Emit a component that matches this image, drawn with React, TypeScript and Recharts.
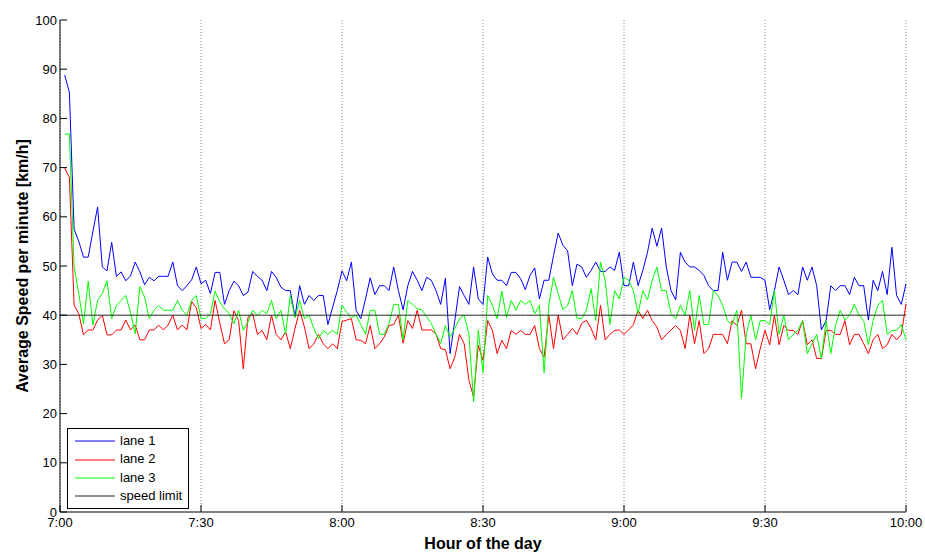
import React from 'react';
import { LineChart, Line, XAxis, YAxis, CartesianGrid, Legend } from 'recharts';

const X_TICKS = [0, 30, 60, 90, 120, 150, 180];
const X_TICK_LABELS = ['7:00', '7:30', '8:00', '8:30', '9:00', '9:30', '10:00'];
const Y_TICKS = [0, 10, 20, 30, 40, 50, 60, 70, 80, 90, 100];
const SPEED_LIMIT = 40;

// minute 1 .. 180 after 7:00
const LANE1 = [
  88.8, 85.3, 57.5, 55, 51.8, 51.8, 57, 62, 49.8, 49, 54.8, 47.9, 48.8, 47, 48, 50.8, 48.8, 46.2, 47.7, 47, 47.9, 47.9, 47.9, 50.8, 46, 45, 46, 47.2, 49.8, 46.4,
  47.1, 44.4, 48.7, 48.7, 42.2, 45, 46.9, 46, 44, 44.7, 48.9, 47.9, 47.1, 45, 48.9, 47.7, 45.7, 45, 45, 39.7, 46, 42.2, 44, 43, 44, 44, 38.1, 41.6, 45, 49,
  47, 50.8, 41, 39.3, 43.3, 47.6, 44.2, 46, 46, 45, 49.8, 45, 41.1, 46, 48.9, 47.1, 45, 47.7, 47.1, 45, 42.2, 47.5, 32.2, 38.9, 45.8, 44, 42.2, 49.8, 43.3, 42.2,
  51.8, 48.4, 47.1, 47.1, 46, 48.7, 48.7, 47.4, 45.2, 48.1, 49.6, 43.3, 47.1, 47.1, 52.1, 56.7, 54.2, 53.1, 46, 50.4, 49.8, 47.7, 49.1, 50.8, 48.9, 48.9, 49.8, 49.1, 52.8, 46,
  46, 50.8, 46, 49.1, 52.8, 57.7, 54, 57.7, 49.8, 45, 43.1, 52.8, 50.8, 49.8, 49.8, 49.1, 48.1, 46, 45, 45, 52.8, 47.1, 50.8, 50.8, 48.9, 50.8, 47.7, 47.7, 47.7, 47.1,
  41.1, 45, 49.8, 47.1, 44.2, 45, 44.2, 49.8, 47.1, 49.8, 46, 37, 38.9, 46, 45, 46, 46, 44.2, 47.7, 46, 46, 39, 47.1, 45, 48.9, 44.2, 53.8, 44, 42.2, 46.4,
];

const LANE2 = [
  69.9, 68, 42, 40.3, 36, 37, 37, 39, 40, 36, 36, 37, 37, 39, 37, 38, 35, 35, 37, 37, 38, 37, 38, 40, 37, 38, 37, 42.8, 41.5, 37.3,
  38.1, 37, 43, 38.4, 34.2, 35, 40.9, 38.9, 29.1, 39.6, 40.3, 36.1, 36.9, 35, 40, 36.1, 35, 36.6, 33.2, 37.3, 41, 37.6, 33.2, 34.2, 36.1, 34.2, 33.2, 34.2, 33.2, 38.7,
  39, 39.3, 35, 34.9, 34.2, 37.9, 33.2, 34.2, 35.6, 37.9, 38.1, 40, 34.3, 38.9, 37.3, 41, 37, 37, 37, 36.2, 33.2, 33, 29.1, 31.5, 36.1, 34.2, 26.8, 23.4, 33.9, 30.8,
  38.9, 36.9, 32.2, 34.9, 33.2, 36.9, 36.1, 36.9, 36.1, 36.1, 37.9, 33.2, 31.5, 40, 33.2, 40, 35, 36.1, 37.3, 36.1, 38.3, 39, 37.3, 35, 42, 35, 36.1, 36.9, 37, 36.1,
  37, 38.1, 41, 39.3, 41, 38.9, 37.6, 35, 36.1, 37, 37.9, 36.9, 33.2, 40, 34.2, 38.9, 32.2, 33.2, 36.1, 36.1, 36.1, 34.2, 38.9, 37.9, 41, 34.2, 34.2, 29.1, 33.3, 36.9,
  34, 40, 34, 37.9, 36.9, 36.9, 36.1, 38.9, 34, 35, 31.2, 31.2, 36.9, 36.9, 36.1, 36.1, 38.9, 34, 36.1, 36.1, 34.2, 32.2, 35, 36.1, 33.2, 34, 36.1, 35, 36.1, 42.3,
];

const LANE3 = [
  76.8, 76.8, 49.8, 44.4, 38.2, 46.9, 38, 43, 44.4, 47, 39.3, 42, 43, 44, 40.5, 36.2, 45.8, 43.7, 39.3, 41, 42, 41, 41, 41, 43, 41, 40, 43, 44, 39.3,
  39.3, 40.3, 44.9, 42.7, 41.3, 40.3, 38.3, 41, 37, 38.6, 41, 40, 41, 40.3, 43, 39.3, 41, 36.2, 44, 39.5, 43, 39.3, 40, 37.3, 35.2, 36.9, 36.1, 36.9, 36.1, 42,
  40.6, 39.5, 40, 38.1, 36.1, 41, 41, 36.1, 36.1, 38.3, 42.2, 42.2, 35, 43, 42.2, 41.3, 41.1, 39.7, 38.3, 36.2, 34.2, 37.9, 35.6, 37.3, 39.3, 40, 36.2, 22.4, 36.9, 28.3,
  44, 42, 39.3, 44.9, 39.5, 43, 41, 43, 42.2, 43, 40.3, 42, 28.3, 42, 47.7, 44.4, 41.1, 42, 45, 39.3, 39.3, 41, 45.4, 38.9, 50.8, 47.1, 38.1, 45, 43.3, 47.7,
  47.1, 45, 40.3, 45, 43.1, 47.1, 49.8, 45, 45, 40.3, 39.3, 42, 40, 45, 36.9, 44, 38.1, 38.1, 45, 44, 42, 38.9, 38.1, 41, 23.1, 36.1, 40, 35, 38.9, 38.9,
  38.1, 45, 36.1, 40, 35, 36.1, 36.9, 38.9, 32.2, 34.2, 36.1, 31.2, 38.9, 32.2, 37.9, 41, 39, 40, 42.2, 40, 38.9, 34, 38.9, 42, 43, 36.1, 36.9, 36.9, 38.1, 35,
];

const SERIES = [
  { key: 'lane1', name: 'lane 1', color: '#0000ff' },
  { key: 'lane2', name: 'lane 2', color: '#ff0000' },
  { key: 'lane3', name: 'lane 3', color: '#00ff00' },
  { key: 'limit', name: 'speed limit', color: '#222222' },
];

const data = [{ t: 0, lane1: null, lane2: null, lane3: null, limit: SPEED_LIMIT }].concat(
  LANE1.map((v, i) => ({ t: i + 1, lane1: v, lane2: LANE2[i], lane3: LANE3[i], limit: SPEED_LIMIT }))
);

const FONT = '"Liberation Sans", Arial, Helvetica, sans-serif';
const TICK_LEN = 7;

const fmtX = (v: number) => X_TICK_LABELS[X_TICKS.indexOf(v)] ?? '';

const BottomTick = (props: any) => {
  const { x, y, payload } = props;
  return (
    <g>
      <line x1={x} x2={x} y1={y - 6} y2={y - 6 - TICK_LEN} stroke="#000" />
      <text x={x} y={y} dy="0.71em" textAnchor="middle" fontSize={13} fontFamily={FONT} fill="#000">
        {fmtX(payload.value)}
      </text>
    </g>
  );
};

const TopTick = (props: any) => {
  const { x, y } = props;
  return <line x1={x} x2={x} y1={y} y2={y + TICK_LEN} stroke="#000" />;
};

const LeftTick = (props: any) => {
  const { x, y, payload } = props;
  return (
    <g>
      <line x1={x + 3} x2={x + 3 + TICK_LEN} y1={y} y2={y} stroke="#000" />
      <text x={x} y={y} dy="0.355em" textAnchor="end" fontSize={13} fontFamily={FONT} fill="#000">
        {payload.value}
      </text>
    </g>
  );
};

const RightTick = (props: any) => {
  const { x, y } = props;
  return <line x1={x - TICK_LEN} x2={x} y1={y} y2={y} stroke="#000" />;
};

const LegendBox = () => (
  <div
    style={{
      border: '1px solid #000',
      background: '#fff',
      padding: '3px 6px 2px 7px',
      fontFamily: FONT,
      fontSize: 13,
      color: '#000',
      lineHeight: '18.4px',
    }}
  >
    {SERIES.map((s) => (
      <div key={s.key} style={{ display: 'flex', alignItems: 'center', height: 18.4 }}>
        <svg width={40} height={4} style={{ display: 'block' }}>
          <line x1={0} x2={40} y1={2} y2={2} stroke={s.color} strokeWidth={1} />
        </svg>
        <span style={{ marginLeft: 5, whiteSpace: 'nowrap' }}>{s.name}</span>
      </div>
    ))}
  </div>
);

export default function App() {
  return (
    <div style={{ position: 'fixed', left: 0, top: 0, width: 925, height: 552, background: '#fff' }}>
      <LineChart
        width={925}
        height={552}
        data={data}
        margin={{ top: 20, right: 19, left: 0, bottom: 4 }}
        style={{ fontFamily: FONT }}
      >
        <CartesianGrid horizontal={false} stroke="#8c8c8c" strokeDasharray="1 2" />
        <XAxis
          dataKey="t"
          type="number"
          domain={[0, 180]}
          ticks={X_TICKS}
          interval={0}
          height={36}
          tickSize={0}
          tickMargin={6}
          tickLine={false}
          axisLine={{ stroke: '#000' }}
          tick={BottomTick}
          label={{
            value: 'Hour of the day',
            position: 'insideBottom',
            offset: -1,
            style: { fontSize: 16, fontWeight: 'bold', fill: '#000', fontFamily: FONT },
          }}
        />
        <XAxis
          xAxisId="top"
          orientation="top"
          dataKey="t"
          type="number"
          domain={[0, 180]}
          ticks={X_TICKS}
          interval={0}
          height={0}
          tickSize={0}
          tickMargin={0}
          tickLine={false}
          axisLine={{ stroke: '#000' }}
          tick={TopTick}
        />
        <YAxis
          type="number"
          domain={[0, 100]}
          ticks={Y_TICKS}
          interval={0}
          width={60}
          tickSize={0}
          tickMargin={3}
          tickLine={false}
          axisLine={{ stroke: '#000' }}
          tick={LeftTick}
          label={{
            value: 'Average Speed per minute [km/h]',
            angle: -90,
            position: 'insideLeft',
            offset: 22,
            style: { textAnchor: 'middle', fontSize: 16, fontWeight: 'bold', fill: '#000', fontFamily: FONT },
          }}
        />
        <YAxis
          yAxisId="right"
          orientation="right"
          type="number"
          domain={[0, 100]}
          ticks={Y_TICKS}
          interval={0}
          width={0}
          tickSize={0}
          tickMargin={0}
          tickLine={false}
          axisLine={{ stroke: '#000' }}
          tick={RightTick}
        />
        {SERIES.map((s) => (
          <Line
            key={s.key}
            type="linear"
            dataKey={s.key}
            name={s.name}
            stroke={s.color}
            strokeWidth={1}
            dot={false}
            activeDot={false}
            isAnimationActive={false}
          />
        ))}
        <Legend
          layout="horizontal"
          verticalAlign="middle"
          align="center"
          content={LegendBox}
          wrapperStyle={{ left: 67, top: 428, width: 'auto' }}
        />
      </LineChart>
    </div>
  );
}
